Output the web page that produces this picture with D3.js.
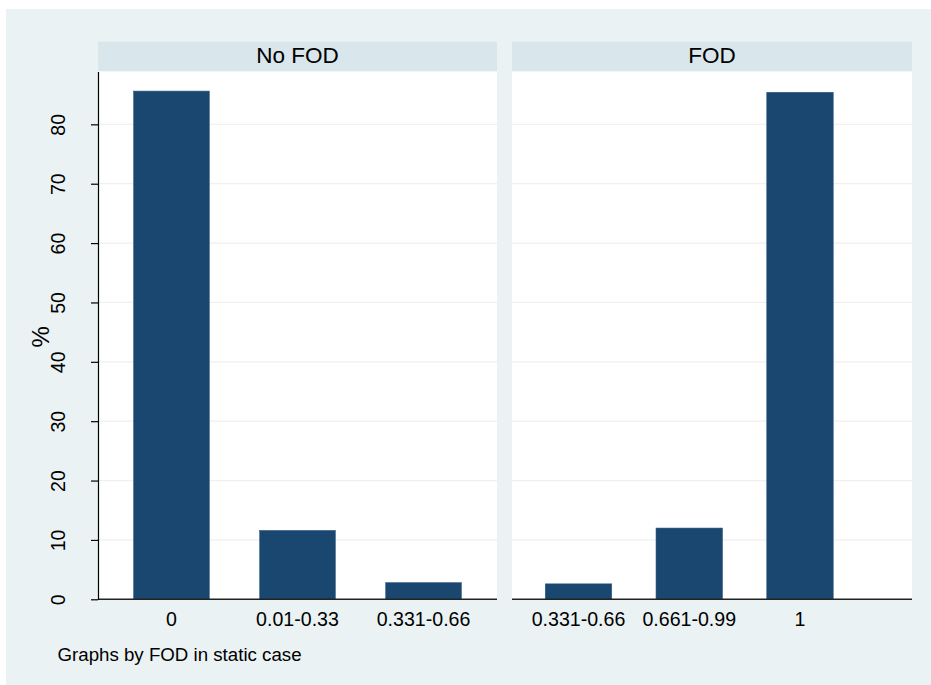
<!DOCTYPE html>
<html>
<head>
<meta charset="utf-8">
<script src="https://cdn.jsdelivr.net/npm/d3@7"></script>
<style>
  html, body { margin: 0; padding: 0; background: #ffffff; }
  svg text { font-family: "Liberation Sans", Arial, Helvetica, sans-serif; fill: #000; }
</style>
</head>
<body>
<svg id="chart" width="931" height="685"></svg>
<script>
// Share of cases (%) in each FOD range, split by the FOD indicator
const panelTitles = ["No FOD", "FOD"];
const noFodCategories = ["0", "0.01-0.33", "0.331-0.66"];
const noFodValues = [85.6, 11.6, 2.8];
const fodCategories = ["0.331-0.66", "0.661-0.99", "1"];
const fodValues = [2.6, 12.0, 85.4];
const yTicks = [0, 10, 20, 30, 40, 50, 60, 70, 80];
const yTitle = "%";
const note = "Graphs by FOD in static case";

const colors = {
  outer: "#EAF2F3",
  strip: "#D9E6EB",
  plot: "#FFFFFF",
  bar: "#1A476F",
  grid: "#EAF2F3"
};

const svg = d3.select("#chart");

// outer graph region
svg.append("rect")
  .attr("x", 6).attr("y", 9).attr("width", 925).attr("height", 676)
  .attr("fill", colors.outer);

const plotTop = 71.5, plotBottom = 599.3, stripTop = 41.7;
const y = d3.scaleLinear().domain([0, 88.9]).range([plotBottom, plotTop]);

const panels = [
  { title: panelTitles[0], cats: noFodCategories, vals: noFodValues,
    x0: 98, x1: 497, outer: 0.283, align: 0.5, yAxis: true },
  { title: panelTitles[1], cats: fodCategories, vals: fodValues,
    x0: 512, x1: 912, outer: 0.506, align: 0.297, yAxis: false }
];

panels.forEach(p => {
  const g = svg.append("g");

  // strip header
  g.append("rect")
    .attr("x", p.x0).attr("y", stripTop)
    .attr("width", p.x1 - p.x0).attr("height", plotTop - stripTop)
    .attr("fill", colors.strip);
  g.append("text")
    .attr("x", (p.x0 + p.x1) / 2).attr("y", 63.3)
    .attr("text-anchor", "middle")
    .style("font-size", "22.5px")
    .text(p.title);

  // plot area
  g.append("rect")
    .attr("x", p.x0).attr("y", plotTop)
    .attr("width", p.x1 - p.x0).attr("height", plotBottom - plotTop)
    .attr("fill", colors.plot);

  // gridlines
  g.selectAll("line.grid")
    .data(yTicks.filter(t => t > 0))
    .join("line")
    .attr("class", "grid")
    .attr("x1", p.x0).attr("x2", p.x1)
    .attr("y1", d => y(d)).attr("y2", d => y(d))
    .attr("stroke", colors.grid).attr("stroke-width", 1.3);

  const x = d3.scaleBand()
    .domain(p.cats)
    .range([p.x0, p.x1])
    .paddingInner(0.4)
    .paddingOuter(p.outer)
    .align(p.align);

  // bars
  g.selectAll("rect.bar")
    .data(p.cats.map((c, i) => ({ c, v: p.vals[i] })))
    .join("rect")
    .attr("class", "bar")
    .attr("x", d => x(d.c))
    .attr("width", x.bandwidth())
    .attr("y", d => y(d.v))
    .attr("height", d => y(0) - y(d.v))
    .attr("fill", colors.bar)
    .attr("stroke", "#2f5a80").attr("stroke-width", 0.6);

  // category axis
  const xAxis = g.append("g")
    .attr("transform", `translate(0,${plotBottom})`)
    .call(d3.axisBottom(x).tickSize(0).tickPadding(0));
  xAxis.select(".domain").remove();
  xAxis.selectAll("text")
    .attr("y", 26.9).attr("dy", 0)
    .style("font-size", "19.6px")
    .attr("fill", "#000");

  // baseline
  g.append("line")
    .attr("x1", p.x0).attr("x2", p.x1)
    .attr("y1", plotBottom).attr("y2", plotBottom)
    .attr("stroke", "#222").attr("stroke-width", 1.5);

  if (p.yAxis) {
    const yAxis = g.append("g")
      .attr("transform", `translate(${p.x0},0)`)
      .call(d3.axisLeft(y).tickValues(yTicks).tickSize(7).tickSizeOuter(0)
        .tickFormat(d3.format("d")));
    yAxis.select(".domain").attr("stroke", "#000").attr("stroke-width", 1.2);
    yAxis.selectAll(".tick line").attr("stroke", "#000").attr("stroke-width", 1.2);
    yAxis.selectAll("text")
      .attr("transform", "rotate(-90)")
      .attr("text-anchor", "middle")
      .attr("x", 0).attr("y", -33.5).attr("dy", 0)
      .style("font-size", "19.6px")
      .attr("fill", "#000");
  }
});

// y axis title
svg.append("text")
  .attr("transform", `translate(49.3,${(plotTop + plotBottom) / 2 + 1.5}) rotate(-90)`)
  .attr("text-anchor", "middle")
  .style("font-size", "24px")
  .text(yTitle);

// note
svg.append("text")
  .attr("x", 57.5).attr("y", 660.5)
  .style("font-size", "18.7px")
  .text(note);
</script>
</body>
</html>
